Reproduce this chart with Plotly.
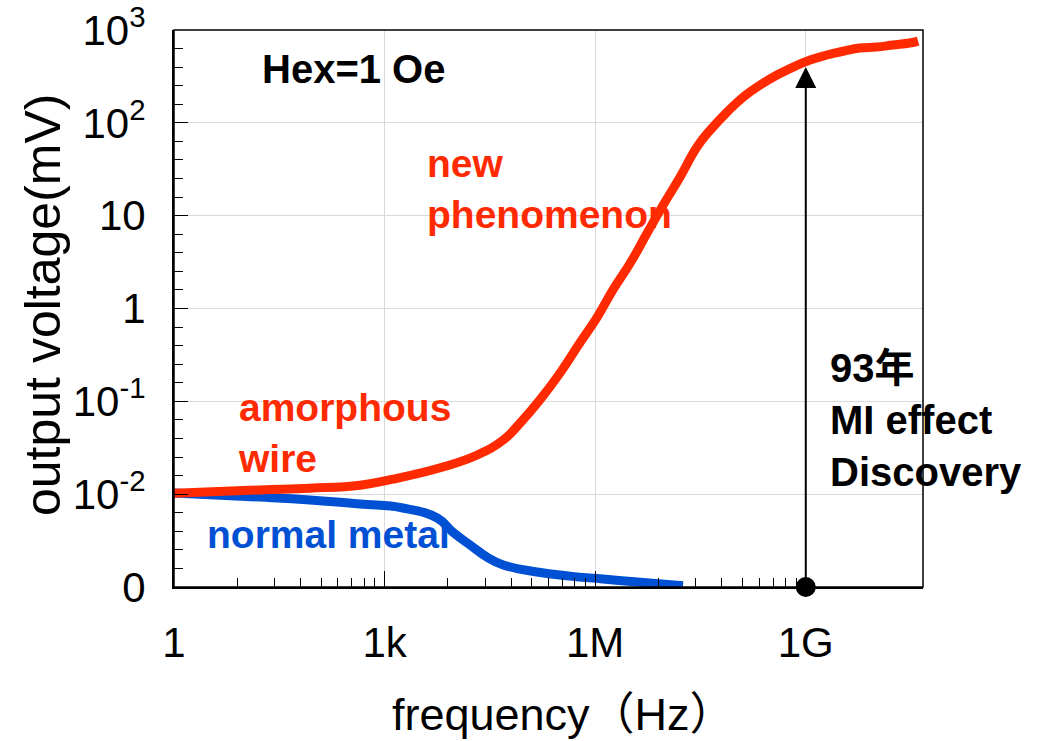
import plotly.graph_objects as go

# ---- data ----
freq_amorphous = [1, 1.68e1, 8.65e1, 4.47e2, 1.32e3, 6.76e3, 2.09e4, 4.9e4, 8.51e4, 1.62e5,
                  3.16e5, 6.03e5, 1.07e6, 1.78e6, 3.16e6, 5.5e6, 9.3e6, 1.62e7, 2.82e7,
                  4.37e7, 7.59e7, 1.29e8, 2.24e8, 3.89e8, 6.61e8, 1.15e9, 2.0e9, 3.55e9,
                  5.89e9, 1.02e10, 1.74e10, 3.02e10, 3.98e10]
volt_amorphous = [0.0102, 0.0111, 0.0116, 0.0125, 0.0145, 0.0196, 0.0264, 0.0383, 0.0583, 0.103,
                  0.202, 0.425, 0.809, 1.58, 3.09, 6.5, 13.0, 26.1, 55.0,
                  83.8, 131, 190, 255, 327, 399, 475, 538, 594,
                  640, 656, 689, 724, 760]

freq_metal = [1, 1.68e1, 8.65e1, 4.47e2, 1.82e3, 5.62e3, 9.33e3, 1.66e4, 2.88e4, 4.9e4,
              1.48e5, 4.37e5, 1.29e6, 3.98e6, 1.78e7]
volt_metal = [0.0103, 0.0093, 0.00865, 0.00783, 0.0071, 0.00553, 0.00391, 0.00283, 0.0021, 0.00173,
              0.00145, 0.00131, 0.00122, 0.00113, 0.00103]

# MI effect discovery marker (1 GHz), from axis floor up to the arrow tip
discovery_freq = [1e9, 1e9]
discovery_volt = [1e-3, 400]

x_tickvals = [1, 1e3, 1e6, 1e9]
x_ticktext = ["1", "1k", "1M", "1G"]
x_minor = [k ** 3 * m for m in (1, 1e3, 1e6) for k in range(2, 10)]

y_tickvals = [1e3, 1e2, 10, 1, 1e-1, 1e-2, 1e-3]
y_ticktext = ["10<sup>3</sup>", "10<sup>2</sup>", "10", "1", "10<sup>-1</sup>", "10<sup>-2</sup>", "0"]
y_minor = [10 ** (d + f / 5) for d in range(-3, 3) for f in range(1, 5)]

RED = "#ff2a00"
BLUE = "#0050d4"
FONT = "Liberation Sans, Arial, Noto Sans CJK JP, sans-serif"

fig = go.Figure()
fig.add_trace(go.Scatter(x=freq_metal, y=volt_metal, mode="lines",
                         line=dict(color=BLUE, width=9, shape="spline", smoothing=1.3),
                         cliponaxis=False, showlegend=False))
fig.add_trace(go.Scatter(x=freq_amorphous, y=volt_amorphous, mode="lines",
                         line=dict(color=RED, width=9, shape="spline", smoothing=1.3),
                         cliponaxis=False, showlegend=False))
fig.add_trace(go.Scatter(x=discovery_freq, y=discovery_volt, mode="lines+markers",
                         line=dict(color="black", width=2),
                         marker=dict(color="black", size=[20, 21], opacity=1,
                                     symbol=["circle", "arrow-up"], line=dict(width=0)),
                         cliponaxis=False, showlegend=False))

L, R, T, B = 174, 128, 30, 154
W, H = 1051, 741
pw, ph = W - L - R, H - T - B


def px(x, y):
    return (x - L) / pw, (H - B - y) / ph


def label(text, x, y, color, size, weight="bold", xanchor="left", angle=0):
    xx, yy = px(x, y)
    fig.add_annotation(x=xx, y=yy, xref="paper", yref="paper", text=text,
                       showarrow=False, xanchor=xanchor, yanchor="middle", align="left",
                       textangle=angle,
                       font=dict(family=FONT, size=size, color=color, weight=weight))


label("Hex=1 Oe", 260, 69, "black", 40)
label("new<br>phenomenon", 425, 189, RED, 39)
label("amorphous<br>wire", 236, 433, RED, 39)
label("normal metal", 205, 534, BLUE, 39)
label("93年<br>MI effect<br>Discovery", 828, 420, "black", 40)
label("frequency（Hz）", 390, 714, "black", 45, weight="normal")
label("output voltage(mV)", 43, 305, "black", 50, weight="normal", xanchor="center", angle=-90)

fig.add_shape(type="rect", xref="paper", yref="paper", x0=0, x1=1, y0=0, y1=1,
              line=dict(color="black", width=1.5), layer="above")

fig.update_layout(
    width=W, height=H,
    margin=dict(l=L, r=R, t=T, b=B, autoexpand=False),
    paper_bgcolor="white", plot_bgcolor="white",
    font=dict(family=FONT, color="black"),
    xaxis=dict(type="log", range=[0, 10.67], tickmode="array", tickvals=x_tickvals,
               ticktext=x_ticktext, ticks="inside", ticklen=16, tickwidth=1.3,
               tickcolor="black", showgrid=True, gridcolor="#d9d9d9", gridwidth=1,
               showline=True, linecolor="black", linewidth=2, zeroline=False,
               tickfont=dict(size=42), ticklabelstandoff=18, automargin=False,
               minor=dict(tickvals=x_minor, ticks="inside", ticklen=9, tickwidth=1.2,
                          tickcolor="black", showgrid=False)),
    yaxis=dict(type="log", range=[-3, 3], tickmode="array", tickvals=y_tickvals,
               ticktext=y_ticktext, ticks="inside", ticklen=14, tickwidth=1.3,
               tickcolor="black", showgrid=True, gridcolor="#d9d9d9", gridwidth=1,
               showline=True, linecolor="black", linewidth=2, zeroline=False,
               tickfont=dict(size=42), ticklabelstandoff=18, automargin=False,
               minor=dict(tickvals=y_minor, ticks="inside", ticklen=9, tickwidth=1.2,
                          tickcolor="black", showgrid=False)),
)

fig.write_html("out.html")
